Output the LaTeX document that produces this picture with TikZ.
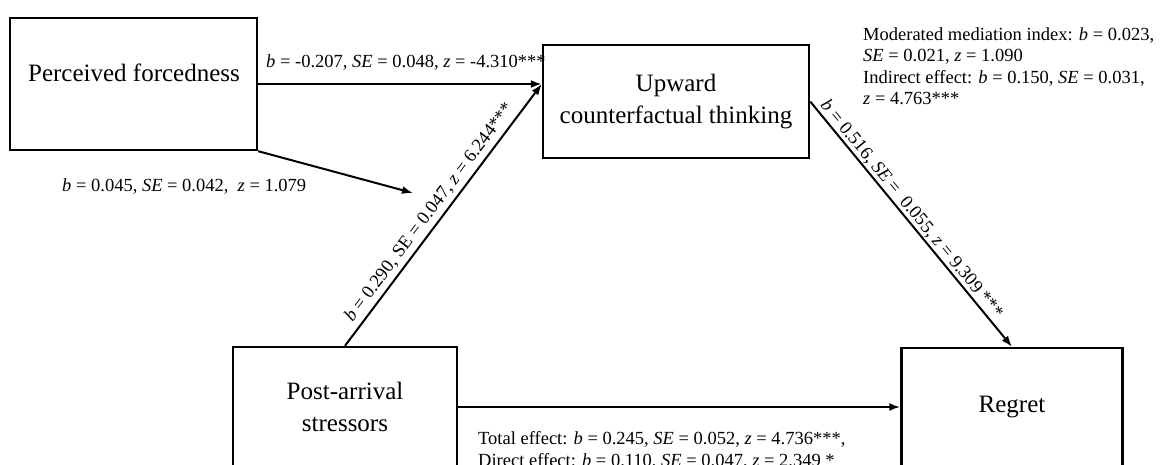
\documentclass[tikz,border=0pt]{standalone}
\usepackage{fontspec}
\setmainfont{Liberation Serif}
\usetikzlibrary{arrows.meta,calc}
\begin{document}
\begin{tikzpicture}[x=1pt,y=-1pt,
 box/.style={draw,line width=2.4pt,align=center,font=\fontsize{25}{32}\selectfont,inner sep=0pt},
 boxtext/.style={align=center,font=\fontsize{25}{32}\selectfont,inner sep=0pt},
 lab/.style={font=\fontsize{18.5}{21.5}\selectfont,inner sep=0pt,align=left},
 arr/.style={line width=2pt,-{Latex[length=11pt,width=8pt]}}]
\clip (0,0) rectangle (1163,464);
\fill[white] (0,0) rectangle (1163,464);
% boxes
\node[box,minimum width=247pt,minimum height=132pt] (pf) at (133.5,84) {};
\node[boxtext] (pft) at (134,73) {Perceived forcedness};
\node[box,minimum width=266pt,minimum height=113pt] (up) at (676,101.5) {Upward\\counterfactual thinking};
\node[box,minimum width=224pt,minimum height=119pt] (post) at (345,406.5) {Post-arrival\\stressors};
\node[box,minimum width=221pt,minimum height=118pt] (reg) at (1012,407) {Regret};
\coordinate (upin) at (up.west |- pf.east);
\coordinate (mod) at (413,193);
% connectors
\draw[arr] (pf.east) -- (upin);
\draw[arr] (pf.south east) -- (mod);
\draw[arr] (post.north) -- (upin)
  node[lab,sloped,pos=0.48,above=4pt] (l3) {\textit{b} = 0.290, SE = 0.047, \textit{z} = 6.244***};
\draw[arr] (up.east) -- (reg.north)
  node[lab,sloped,pos=0.465,above=1pt] (l4) {\textit{b} = 0.516, \textit{SE} =\ \ 0.055, \textit{z} = 9.309 ***};
\draw[arr] (post.east |- reg.west) -- (reg.west);
% labels
\node[lab,anchor=base west] (l1) at (266,67) {\textit{b} = -0.207, \textit{SE} = 0.048, \textit{z} = -4.310***};
\node[lab,anchor=base west] (l2) at (62,191) {\textit{b} = 0.045, \textit{SE} = 0.042,\ \ \textit{z} = 1.079};
\node[lab,anchor=north west] (l5) at (863,27) {Moderated mediation index: \textit{b} = 0.023,\\\textit{SE} = 0.021, \textit{z} = 1.090\\Indirect effect: \textit{b} = 0.150, \textit{SE} = 0.031,\\\textit{z} = 4.763***};
\node[lab,anchor=north west,font=\fontsize{18.5}{22}\selectfont] (l6) at (478,431.5) {Total effect: \textit{b} = 0.245, \textit{SE} = 0.052, \textit{z} = 4.736***,\\Direct effect: \textit{b} = 0.110, \textit{SE} = 0.047, \textit{z} = 2.349 *};
\end{tikzpicture}
\end{document}
